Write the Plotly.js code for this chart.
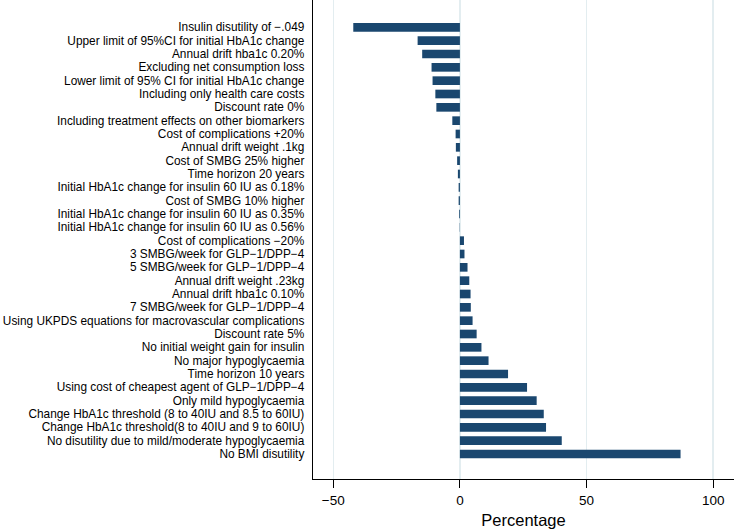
<!DOCTYPE html>
<html>
<head>
<meta charset="utf-8">
<script src="https://cdn.plot.ly/plotly-3.0.1.min.js"></script>
<style>html,body{margin:0;padding:0;background:#fff;}#chart{width:734px;height:531px;}</style>
</head>
<body>
<div id="chart"></div>
<script>
const categories = [
  "Insulin disutility of −.049",
  "Upper limit of 95%CI for initial HbA1c change",
  "Annual drift hba1c 0.20%",
  "Excluding net consumption loss",
  "Lower limit of 95% CI for initial HbA1c change",
  "Including only health care costs",
  "Discount rate 0%",
  "Including treatment effects on other biomarkers",
  "Cost of complications +20%",
  "Annual drift weight .1kg",
  "Cost of SMBG 25% higher",
  "Time horizon 20 years",
  "Initial HbA1c change for insulin 60 IU as 0.18%",
  "Cost of SMBG 10% higher",
  "Initial HbA1c change for insulin 60 IU as 0.35%",
  "Initial HbA1c change for insulin 60 IU as 0.56%",
  "Cost of complications −20%",
  "3 SMBG/week for GLP−1/DPP−4",
  "5 SMBG/week for GLP−1/DPP−4",
  "Annual drift weight .23kg",
  "Annual drift hba1c 0.10%",
  "7 SMBG/week for GLP−1/DPP−4",
  "Using UKPDS equations for macrovascular complications",
  "Discount rate 5%",
  "No initial weight gain for insulin",
  "No major hypoglycaemia",
  "Time horizon 10 years",
  "Using cost of cheapest agent of GLP−1/DPP−4",
  "Only mild hypoglycaemia",
  "Change HbA1c threshold (8 to 40IU and 8.5 to 60IU)",
  "Change HbA1c threshold(8 to 40IU and 9 to 60IU)",
  "No disutility due to mild/moderate hypoglycaemia",
  "No BMI disutility"
];
const percentage = [
  -42.1, -16.7, -14.9, -11.2, -10.8, -9.7, -9.3, -3.0, -1.7, -1.6, -1.1,
  -0.8, -0.5, -0.5, -0.3, -0.1, 1.6, 1.8, 3.0, 3.7, 4.2, 4.3, 5.0, 6.6,
  8.5, 11.3, 19.0, 26.5, 30.3, 33.1, 34.0, 40.2, 87.1
];
const xTicks = [-50, 0, 50, 100];

const trace = {
  type: 'bar',
  orientation: 'h',
  x: percentage,
  y: categories,
  width: 0.65,
  marker: {color: '#1a476f', line: {color: '#1a476f', width: 0}},
  hoverinfo: 'x+y'
};

const n = categories.length;
const layout = {
  width: 734, height: 531,
  margin: {l: 313, r: 0, t: 0, b: 52, pad: 0},
  paper_bgcolor: '#ffffff',
  plot_bgcolor: '#ffffff',
  showlegend: false,
  font: {family: 'Liberation Sans, Arial, sans-serif', size: 12, color: '#000'},
  xaxis: {
    range: [-58, 108.2],
    tickvals: xTicks,
    ticktext: xTicks.map(v => v < 0 ? '−' + Math.abs(v) : String(v)),
    ticks: 'outside', ticklen: 8, tickwidth: 1, tickcolor: '#000',
    showline: true, linecolor: '#000', linewidth: 1.3,
    showgrid: true, gridcolor: '#e3edf0', gridwidth: 1.5,
    zeroline: false,
    tickfont: {size: 13.5},
    title: {text: 'Percentage', font: {size: 16.5}, standoff: 8}
  },
  yaxis: {
    type: 'category',
    categoryorder: 'array',
    categoryarray: categories,
    tickmode: 'array',
    tickvals: categories,
    ticktext: categories,
    range: [n - 1 + 1.875, -2.05],
    ticks: '',
    showline: true, linecolor: '#000', linewidth: 1.3,
    showgrid: false, zeroline: false,
    ticklabelstandoff: 5,
    tickfont: {size: 11.85}
  },
  bargap: 0.35
};

Plotly.newPlot('chart', [trace], layout, {displayModeBar: false, staticPlot: true});
</script>
</body>
</html>
